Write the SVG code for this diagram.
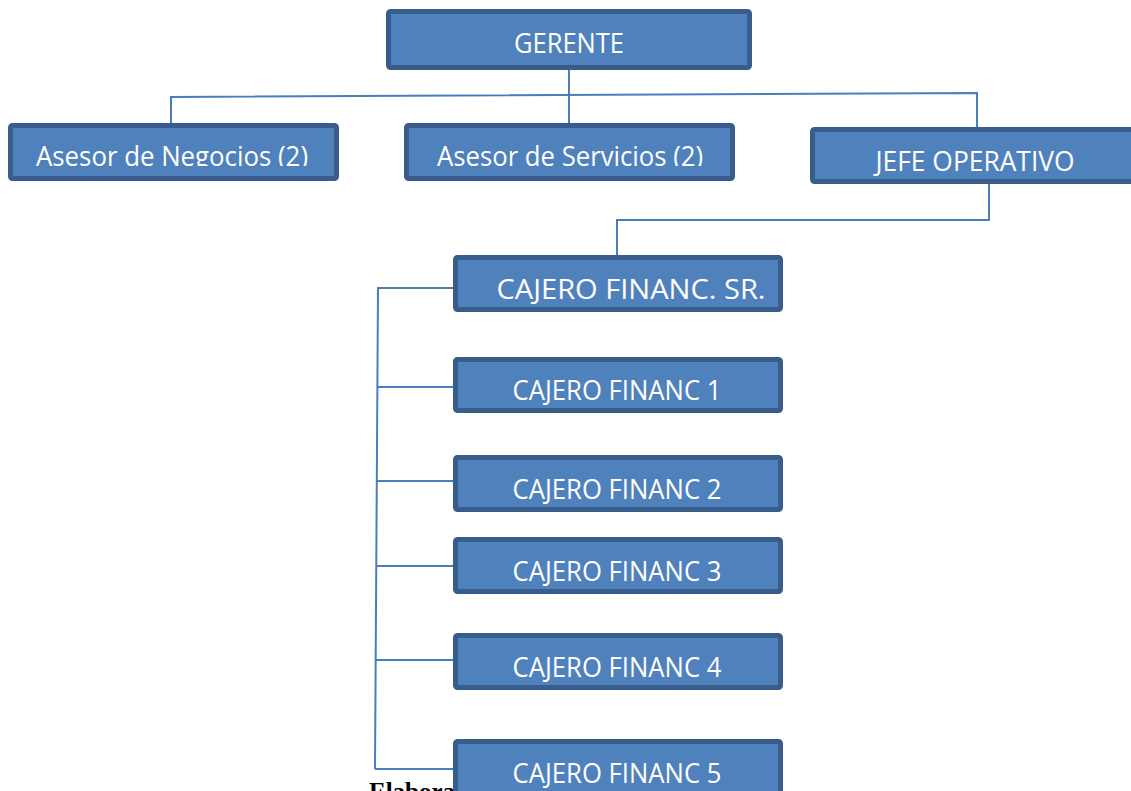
<svg xmlns="http://www.w3.org/2000/svg" width="1131" height="791" viewBox="0 0 1131 791">
<defs>
<style>
.box{fill:#4f81bd;stroke:#385d8a;stroke-width:5}
.lbl{font-family:"Open Sans","Liberation Sans",sans-serif;font-size:27px;fill:#ffffff;text-anchor:middle}
.con{fill:none;stroke:#4a7ebb;stroke-width:2}
</style>
<clipPath id="clipA"><rect x="0" y="120" width="760" height="46"/></clipPath>
</defs>
<rect width="1131" height="791" fill="#ffffff"/>
<text x="369" y="800" font-family="Liberation Serif,serif" font-weight="bold" font-size="25" fill="#000">Elabora</text>
<g id="connectors">
<path class="con" d="M569 69 V128"/>
<path class="con" d="M171 127 V97 L977 93 V131"/>
<path class="con" d="M989 183 V220 H617 V258"/>
<path class="con" d="M378 287 L375 769"/>
<path class="con" d="M378 288 H457"/>
<path class="con" d="M378 387 H456"/>
<path class="con" d="M377 481 H456"/>
<path class="con" d="M377 566 H456"/>
<path class="con" d="M376 660 H456"/>
<path class="con" d="M375 769 H456"/>
</g>
<g id="gerente"><rect class="box" x="388.5" y="11.5" width="361" height="56" rx="2"/><text class="lbl" x="569" y="53" textLength="110" lengthAdjust="spacingAndGlyphs">GERENTE</text></g>
<g id="asesor-negocios"><rect class="box" x="10.5" y="125.5" width="326" height="53" rx="2"/><text class="lbl" x="172" y="166" clip-path="url(#clipA)" textLength="272" lengthAdjust="spacingAndGlyphs">Asesor de Negocios (2)</text></g>
<g id="asesor-servicios"><rect class="box" x="406.5" y="125.5" width="326" height="53" rx="2"/><text class="lbl" x="570" y="166" clip-path="url(#clipA)" textLength="266" lengthAdjust="spacingAndGlyphs">Asesor de Servicios (2)</text></g>
<g id="jefe-operativo"><rect class="box" x="812.5" y="129.5" width="330" height="52" rx="2"/><text class="lbl" x="975" y="171" textLength="199" lengthAdjust="spacingAndGlyphs">JEFE OPERATIVO</text></g>
<g id="cajero-sr"><rect class="box" x="455.5" y="257.5" width="325" height="52" rx="2"/><text class="lbl" x="631" y="299" textLength="269" lengthAdjust="spacingAndGlyphs">CAJERO FINANC. SR.</text></g>
<g id="cajero-1"><rect class="box" x="455.5" y="359.5" width="325" height="51" rx="2"/><text class="lbl" x="617" y="400" textLength="209" lengthAdjust="spacingAndGlyphs">CAJERO FINANC 1</text></g>
<g id="cajero-2"><rect class="box" x="455.5" y="457.5" width="325" height="52" rx="2"/><text class="lbl" x="617" y="499" textLength="209" lengthAdjust="spacingAndGlyphs">CAJERO FINANC 2</text></g>
<g id="cajero-3"><rect class="box" x="455.5" y="539.5" width="325" height="52" rx="2"/><text class="lbl" x="617" y="581" textLength="209" lengthAdjust="spacingAndGlyphs">CAJERO FINANC 3</text></g>
<g id="cajero-4"><rect class="box" x="455.5" y="635.5" width="325" height="52" rx="2"/><text class="lbl" x="617" y="677" textLength="209" lengthAdjust="spacingAndGlyphs">CAJERO FINANC 4</text></g>
<g id="cajero-5"><rect class="box" x="455.5" y="741.5" width="325" height="60" rx="2"/><text class="lbl" x="617" y="783" textLength="209" lengthAdjust="spacingAndGlyphs">CAJERO FINANC 5</text></g>
</svg>
